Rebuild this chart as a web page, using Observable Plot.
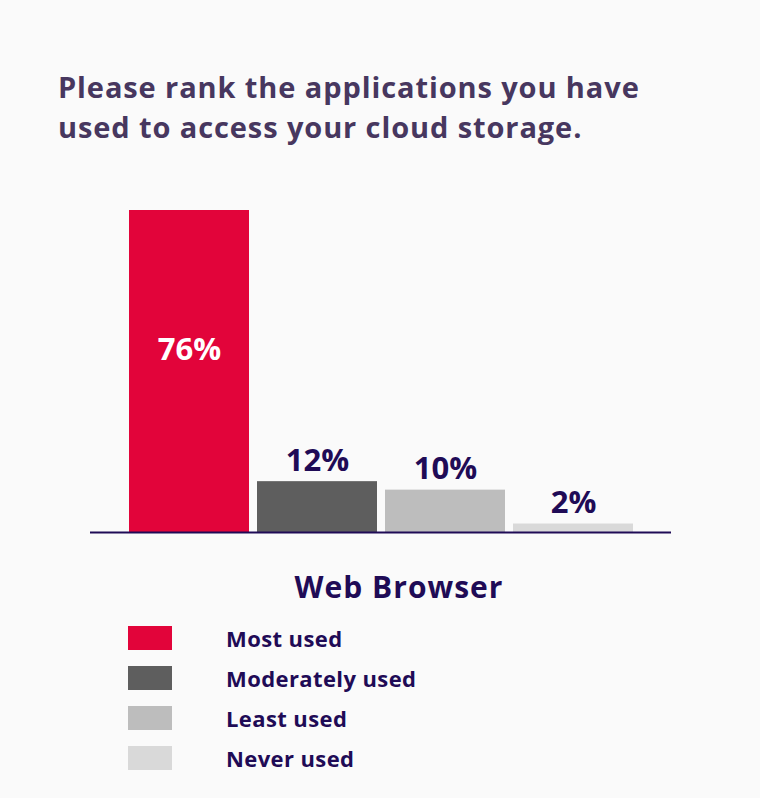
<!DOCTYPE html>
<html>
<head>
<meta charset="utf-8">
<script src="https://cdn.jsdelivr.net/npm/d3@7"></script>
<script src="https://cdn.jsdelivr.net/npm/@observablehq/plot@0.6"></script>
<style>
  html, body { margin: 0; padding: 0; background: #fafafa; }
  body { width: 760px; height: 798px; position: relative; overflow: hidden; font-family: "Open Sans", Lato, sans-serif; }
  #title { position: absolute; left: 58px; top: 67px; font-size: 29px; font-weight: 700; line-height: 40px; color: #47375f; letter-spacing: 0.9px; }
  #chart { position: absolute; left: 0; top: 180px; }
  #xlabel { position: absolute; left: 0; width: 798px; top: 566px; text-align: center; font-size: 30px; font-weight: 700; color: #1f0b56; letter-spacing: 1px; }
  #legend { position: absolute; left: 128px; top: 626px; }
  .row { display: flex; align-items: center; height: 24px; margin-bottom: 16px; }
  .sw { width: 44px; height: 24px; }
  .lab { margin-left: 54px; font-size: 22px; font-weight: 700; color: #1f0b56; letter-spacing: 0.4px; }
</style>
</head>
<body>
<div id="title">Please rank the applications you have<br>used to access your cloud storage.</div>
<div id="chart"></div>
<div id="xlabel">Web Browser</div>
<div id="legend"></div>
<script>
const categories = ["Most used", "Moderately used", "Least used", "Never used"];
const values = [76, 12, 10, 2];
const colors = ["#e2043a", "#5e5e5e", "#bdbdbd", "#d9d9d9"];
const valueLabels = ["76%", "12%", "10%", "2%"];

const data = categories.map((c, i) => ({category: c, value: values[i], label: valueLabels[i]}));

const chart = Plot.plot({
  width: 760,
  height: 380,
  marginLeft: 90,
  marginRight: 89,
  marginTop: 30,
  marginBottom: 28,
  style: {background: "transparent", fontFamily: "'Open Sans', sans-serif"},
  x: {domain: categories, paddingInner: 0.0625, paddingOuter: 0.3, axis: null},
  y: {domain: [0, 76], axis: null},
  color: {domain: categories, range: colors},
  marks: [
    Plot.barY(data, {x: "category", y: "value", fill: "category"}),
    Plot.ruleY([0], {stroke: "#1f0b56", strokeWidth: 2}),
    Plot.text(data.filter(d => d.value > 50), {x: "category", y: "value", text: "label", dy: 140, fill: "white", fontSize: 31, fontWeight: 700}),
    Plot.text(data.filter(d => d.value <= 50), {x: "category", y: "value", text: "label", dy: -21, fill: "#1f0b56", fontSize: 31, fontWeight: 700})
  ]
});
document.getElementById("chart").appendChild(chart);

const legend = document.getElementById("legend");
categories.forEach((c, i) => {
  const row = document.createElement("div");
  row.className = "row";
  const sw = document.createElement("div");
  sw.className = "sw";
  sw.style.background = colors[i];
  const lab = document.createElement("div");
  lab.className = "lab";
  lab.textContent = c;
  row.appendChild(sw);
  row.appendChild(lab);
  legend.appendChild(row);
});
</script>
</body>
</html>
